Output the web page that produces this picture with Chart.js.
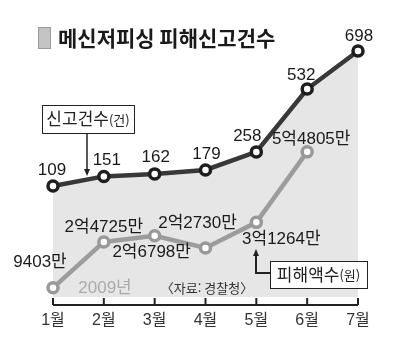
<!DOCTYPE html>
<html lang="ko">
<head>
  <meta charset="UTF-8">
  <title>메신저피싱 피해신고건수</title>
  <style>
    body { margin: 0; background: #fff; }
    #wrap { width: 393px; height: 349px; }
  </style>
  <script src="https://cdn.jsdelivr.net/npm/chart.js"></script>
</head>
<body>
  <div id="wrap"><canvas id="chart" width="393" height="349"></canvas></div>

  <script>
    // 2009년 월별 데이터 (자료: 경찰청)
    const months = ['1월', '2월', '3월', '4월', '5월', '6월', '7월'];
    const reportCounts = [109, 151, 162, 179, 258, 532, 698];          // 신고건수(건)
    const damageAmounts = [9403, 24725, 26798, 22730, 31264, 54805, null]; // 피해액수(만원)

    const NUM_FONT = "'Liberation Sans Narrow', 'Liberation Sans', 'Noto Sans CJK KR', sans-serif";
    const KR_FONT = "'Noto Sans CJK KR', sans-serif";

    // label offsets from each point (label centre)
    const countOffsets = [[-1, -16], [3, -16], [1, -17], [1, -16], [-9, -16], [-6, -14], [1, -15]];
    const damageOffsets = [[-13, -26], [0, -15], [-3, 17], [-8, -25], [25, 17], [4, -13]];

    // 만원 -> "2억4725만"
    function formatWon(v) {
      if (v >= 10000) return Math.floor(v / 10000) + '억' + (v % 10000) + '만';
      return v + '만';
    }

    // value labels next to the points
    const valueLabels = {
      id: 'valueLabels',
      afterDatasetsDraw(chart) {
        const ctx = chart.ctx;
        ctx.save();
        ctx.fillStyle = '#1a1a1a';
        ctx.textAlign = 'center';
        ctx.textBaseline = 'middle';
        ctx.font = '17px ' + NUM_FONT;
        chart.getDatasetMeta(0).data.forEach((pt, i) => {
          const o = countOffsets[i];
          ctx.fillText(String(reportCounts[i]), pt.x + o[0], pt.y + o[1]);
        });
        chart.getDatasetMeta(1).data.forEach((pt, i) => {
          if (damageAmounts[i] == null) return;
          const o = damageOffsets[i];
          ctx.fillText(formatWon(damageAmounts[i]), pt.x + o[0], pt.y + o[1]);
        });
        ctx.restore();
      }
    };

    // x axis line with tick marks pointing up
    const axisLine = {
      id: 'axisLine',
      afterDraw(chart) {
        const ctx = chart.ctx;
        const xs = chart.scales.x;
        const y = chart.chartArea.bottom + 8;
        ctx.save();
        ctx.strokeStyle = '#222';
        ctx.lineWidth = 2;
        ctx.beginPath();
        ctx.moveTo(xs.getPixelForTick(0), y);
        ctx.lineTo(xs.getPixelForTick(months.length - 1), y);
        for (let i = 0; i < months.length; i++) {
          const x = xs.getPixelForTick(i);
          ctx.moveTo(x, y);
          ctx.lineTo(x, y - 7);
        }
        ctx.stroke();
        ctx.restore();
      }
    };

    function arrowHead(ctx, x, y, dir) {
      ctx.beginPath();
      ctx.moveTo(x, y);
      ctx.lineTo(x - 3, y - 7 * dir);
      ctx.lineTo(x + 3, y - 7 * dir);
      ctx.closePath();
      ctx.fill();
    }

    function labelBox(ctx, x, y, w, h, main, unit) {
      ctx.fillStyle = '#fff';
      ctx.fillRect(x, y, w, h);
      ctx.strokeStyle = '#222';
      ctx.lineWidth = 1;
      ctx.strokeRect(x + 0.5, y + 0.5, w, h);
      ctx.fillStyle = '#222';
      ctx.textBaseline = 'middle';
      ctx.textAlign = 'left';
      ctx.font = '17px ' + KR_FONT;
      const w1 = ctx.measureText(main).width;
      ctx.font = '13px ' + KR_FONT;
      const w2 = ctx.measureText(unit).width;
      const sx = x + (w - w1 - w2) / 2;
      ctx.font = '17px ' + KR_FONT;
      ctx.fillText(main, sx, y + h / 2);
      ctx.font = '13px ' + KR_FONT;
      ctx.fillText(unit, sx + w1, y + h / 2 + 1);
    }

    // title, legend boxes, notes
    const decorations = {
      id: 'decorations',
      afterDraw(chart) {
        const ctx = chart.ctx;
        ctx.save();
        // title marker
        ctx.fillStyle = '#c4c4c4';
        ctx.fillRect(38, 27, 13, 22);
        ctx.strokeStyle = '#999';
        ctx.lineWidth = 1;
        ctx.strokeRect(38.5, 27.5, 12, 21);
        ctx.fillStyle = '#1a1a1a';
        ctx.font = 'bold 21px ' + KR_FONT;
        ctx.textBaseline = 'middle';
        ctx.textAlign = 'left';
        ctx.fillText('메신저피싱 피해신고건수', 58, 38);

        // 신고건수 box + arrow
        labelBox(ctx, 42, 105, 92, 28, '신고건수', '(건)');
        ctx.strokeStyle = '#222';
        ctx.fillStyle = '#222';
        ctx.lineWidth = 1.5;
        ctx.beginPath();
        ctx.moveTo(87, 134);
        ctx.lineTo(87, 170);
        ctx.stroke();
        arrowHead(ctx, 87, 176, 1);

        // 피해액수 box + arrow
        labelBox(ctx, 270, 261, 97, 27, '피해액수', '(원)');
        ctx.strokeStyle = '#222';
        ctx.fillStyle = '#222';
        ctx.lineWidth = 2;
        ctx.beginPath();
        ctx.moveTo(256, 255);
        ctx.lineTo(256, 273);
        ctx.lineTo(270, 273);
        ctx.stroke();
        arrowHead(ctx, 256, 249, -1);

        // notes
        ctx.textAlign = 'center';
        ctx.textBaseline = 'middle';
        ctx.font = '17px ' + NUM_FONT;
        ctx.fillStyle = '#aaa';
        ctx.fillText('2009년', 105, 288);
        ctx.font = '13px ' + KR_FONT;
        ctx.fillStyle = '#333';
        ctx.fillText('〈자료: 경찰청〉', 207, 288);
        ctx.restore();
      }
    };

    new Chart(document.getElementById('chart').getContext('2d'), {
      type: 'line',
      data: {
        labels: months,
        datasets: [
          {
            label: '신고건수(건)',
            data: reportCounts,
            yAxisID: 'y',
            borderColor: '#383838',
            borderWidth: 4.5,
            backgroundColor: '#e6e6e6',
            fill: 'start',
            pointRadius: 5,
            pointBorderWidth: 3.5,
            pointBackgroundColor: '#fff',
            pointBorderColor: '#1e1e1e',
            tension: 0,
            clip: false
          },
          {
            label: '피해액수(원)',
            data: damageAmounts,
            yAxisID: 'y2',
            borderColor: '#9c9c9c',
            borderWidth: 4.5,
            fill: false,
            pointRadius: 5,
            pointBorderWidth: 3.5,
            pointBackgroundColor: '#fff',
            pointBorderColor: '#999',
            tension: 0,
            clip: false
          }
        ]
      },
      options: {
        responsive: false,
        animation: false,
        layout: { padding: { left: 53, right: 35, top: 40, bottom: 0 } },
        plugins: {
          legend: { display: false },
          tooltip: { enabled: false },
          filler: { drawTime: 'beforeDatasetsDraw' }
        },
        scales: {
          x: {
            offset: false,
            grid: { display: false, drawTicks: false },
            border: { display: false },
            ticks: { color: '#333', font: { size: 16, family: NUM_FONT }, padding: 14, maxRotation: 0 },
            afterFit(s) { s.height = 52; }
          },
          y: { display: false, min: -375, max: 746 },
          y2: { display: false, min: 6344, max: 92154 }
        }
      },
      plugins: [valueLabels, axisLine, decorations]
    });
  </script>
</body>
</html>
